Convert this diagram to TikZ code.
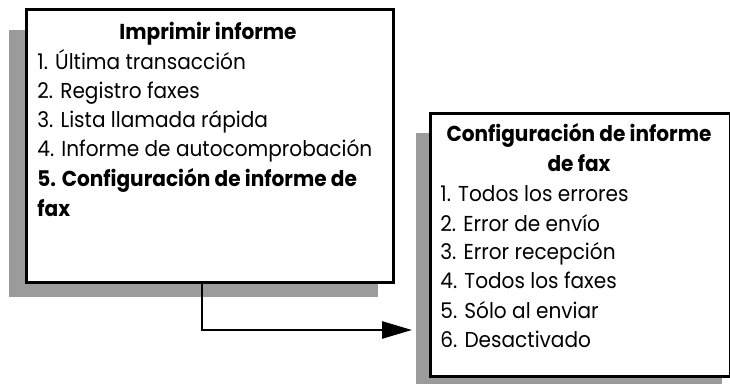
\documentclass[tikz,border=0pt]{standalone}
\usepackage{fontspec}
\setmainfont{Poppins}[FakeStretch=0.93]
\usepackage{xcolor}
\usetikzlibrary{arrows.meta}
\definecolor{shadowgray}{RGB}{155,155,155}
\tikzset{
  menubox/.style={draw,fill=white,line width=1.35pt,inner sep=0pt,anchor=north west},
  entry/.style={anchor=base west,inner sep=0pt,font=\fontsize{10.8}{13}\selectfont},
  heading/.style={anchor=base,inner sep=0pt,font=\fontsize{10.8}{13}\selectfont\bfseries},
}
\begin{document}
\begin{tikzpicture}[x=0.5pt,y=-0.5pt]
  \useasboundingbox (0,0) rectangle (730,384);
  % shadows behind the two menus
  \fill[shadowgray] (9,30) rectangle (378,297);
  \fill[shadowgray] (416,133) rectangle (722,384);
  % first menu
  \node[menubox,minimum width=183.5pt,minimum height=136.5pt] (print) at (25,8) {};
  \node[heading] (printtitle) at (208,40) {Imprimir informe};
  \node[entry] (p1) at (37,70) {1. Última transacción};
  \node[entry] (p2) at (37,99) {2. Registro faxes};
  \node[entry] (p3) at (37,128) {3. Lista llamada rápida};
  \node[entry] (p4) at (37,157) {4. Informe de autocomprobación};
  \node[entry,font=\fontsize{10.8}{13}\selectfont\bfseries] (p5) at (37,187) {5. Configuración de informe de};
  \node[entry,font=\fontsize{10.8}{13}\selectfont\bfseries] (p5b) at (37,217) {fax};
  % second menu
  \node[menubox,minimum width=150pt,minimum height=131.5pt] (config) at (429,112) {};
  \node[heading] (conftitle) at (579,142) {Configuración de informe};
  \node[heading] (conftitleb) at (579,172) {de fax};
  \node[entry] (c1) at (440,202) {1. Todos los errores};
  \node[entry] (c2) at (440,232) {2. Error de envío};
  \node[entry] (c3) at (440,260) {3. Error recepción};
  \node[entry] (c4) at (440,289) {4. Todos los faxes};
  \node[entry] (c5) at (440,319) {5. Sólo al enviar};
  \node[entry] (c6) at (440,348) {6. Desactivado};
  % link from item 5 to its submenu
  \coordinate (tip) at (412,330);
  \draw[line width=1.35pt,-{Triangle[length=15pt,width=8.5pt]}]
    ([xshift=88.5pt]print.south west) |- (tip);
\end{tikzpicture}
\end{document}
